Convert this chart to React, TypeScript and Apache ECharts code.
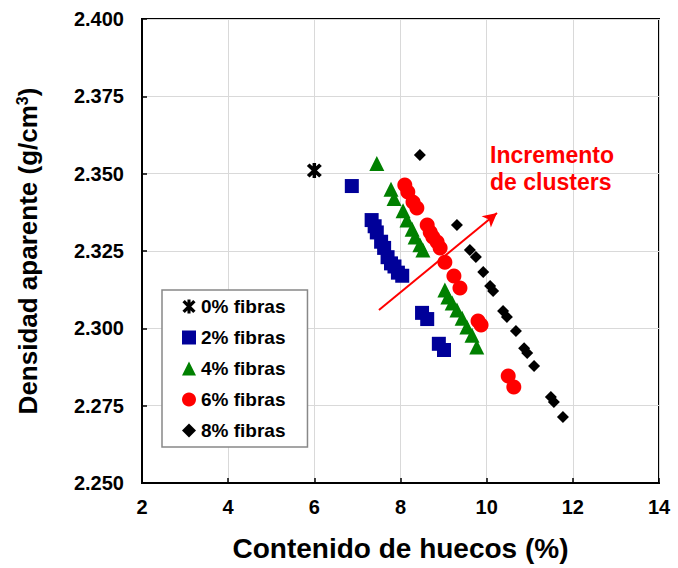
import React, { useEffect, useRef } from "react";
import * as echarts from "echarts";

const xTicks = [2, 4, 6, 8, 10, 12, 14];
const seriesNames = ["0% fibras", "2% fibras", "4% fibras", "6% fibras", "8% fibras"];

const fib0 = [[6.0, 2.351]];
const fib2 = [
  [6.87, 2.346], [7.33, 2.335], [7.4, 2.333], [7.45, 2.331], [7.55, 2.328], [7.62, 2.326],
  [7.7, 2.323], [7.78, 2.321], [7.86, 2.32], [7.94, 2.318], [8.04, 2.317],
  [8.5, 2.305], [8.62, 2.303], [8.89, 2.295], [9.01, 2.293],
];
const fib4 = [
  [7.45, 2.3533], [7.78, 2.345], [7.85, 2.342], [8.06, 2.338], [8.15, 2.335], [8.27, 2.332],
  [8.34, 2.3295], [8.45, 2.327], [8.52, 2.3253], [9.03, 2.3124], [9.1, 2.3101], [9.2, 2.3082],
  [9.31, 2.3059], [9.43, 2.3033], [9.54, 2.3004], [9.66, 2.2978], [9.77, 2.294],
];
const fib6 = [
  [8.1, 2.3463], [8.17, 2.3441], [8.29, 2.3408], [8.38, 2.3389], [8.62, 2.3334], [8.69, 2.3311],
  [8.75, 2.3295], [8.85, 2.3279], [8.92, 2.326], [9.03, 2.3214], [9.24, 2.3169], [9.38, 2.313],
  [9.8, 2.3024], [9.87, 2.3011], [10.5, 2.2846], [10.63, 2.281],
];
const fib8 = [
  [8.45, 2.356], [9.31, 2.3334], [9.61, 2.3253], [9.75, 2.3231], [9.92, 2.3182], [10.08, 2.3137],
  [10.15, 2.3121], [10.38, 2.3056], [10.47, 2.3037], [10.68, 2.2991], [10.87, 2.2936],
  [10.94, 2.292], [11.1, 2.2878], [11.49, 2.2778], [11.56, 2.2762], [11.77, 2.2713],
];
const arrowStart = [7.5, 2.3059];
const arrowEnd = [10.24, 2.3373];
const annotation = "Incremento\nde clusters";

const FONT = "'Liberation Sans', Arial, sans-serif";
const STAR =
  "path://M3.9 0H6.1V10H3.9Z M0.3 2L2 0.3L9.7 8L8 9.7Z M8 0.3L9.7 2L2 9.7L0.3 8Z";

export default function App() {
  const ref = useRef<HTMLDivElement>(null);
  useEffect(() => {
    if (!ref.current) return;
    const chart = echarts.init(ref.current, undefined, { renderer: "svg" });
    const mk = (name: string, data: number[][], symbol: string, size: number, color: string, extra: any = {}) => ({
      name,
      type: "scatter",
      data,
      symbol,
      symbolSize: size,
      itemStyle: { color, opacity: 1 },
      ...extra,
    });
    chart.setOption({
      animation: false,
      backgroundColor: "#fff",
      grid: {
        left: 142,
        top: 19,
        width: 517,
        height: 464,
        show: true,
        borderColor: "#000",
        borderWidth: 2,
        backgroundColor: "#fff",
      },
      xAxis: {
        type: "value",
        min: xTicks[0],
        max: xTicks[xTicks.length - 1],
        interval: 2,
        name: "Contenido de huecos (%)",
        nameLocation: "middle",
        nameGap: 51,
        nameTextStyle: { fontFamily: FONT, fontWeight: "bold", fontSize: 28, color: "#000" },
        axisLine: { show: true, lineStyle: { color: "#000", width: 2 } },
        axisTick: { show: true, inside: true, length: 5, lineStyle: { color: "#000", width: 1.5 } },
        axisLabel: { fontFamily: FONT, fontWeight: "bold", fontSize: 20, color: "#000", margin: 14 },
        splitLine: { show: true, lineStyle: { color: "#d9d9d9", width: 1 } },
      },
      yAxis: {
        type: "value",
        min: 2.25,
        max: 2.4,
        interval: 0.025,
        name: "Densidad aparente (g/cm{sup|3})",
        nameLocation: "middle",
        nameGap: 100,
        nameRotate: 90,
        nameTextStyle: {
          fontFamily: FONT,
          fontWeight: "bold",
          fontSize: 26,
          color: "#000",
          rich: {
            sup: { fontFamily: FONT, fontWeight: "bold", fontSize: 16, color: "#000", padding: [0, 0, 12, 0] },
          },
        },
        axisLine: { show: true, lineStyle: { color: "#000", width: 2 } },
        axisTick: { show: true, inside: true, length: 5, lineStyle: { color: "#000", width: 1.5 } },
        axisLabel: {
          fontFamily: FONT,
          fontWeight: "bold",
          fontSize: 20,
          color: "#000",
          margin: 18,
          formatter: (v: number) => v.toFixed(3),
        },
        splitLine: { show: true, lineStyle: { color: "#d9d9d9", width: 1 } },
      },
      legend: {
        show: true,
        orient: "vertical",
        left: 162,
        top: 290,
        data: seriesNames,
        itemWidth: 14,
        itemHeight: 14,
        itemGap: 12,
        padding: [7, 22, 7, 20],
        borderColor: "#888",
        borderWidth: 1.5,
        backgroundColor: "#fff",
        textStyle: { fontFamily: FONT, fontWeight: "bold", fontSize: 19, color: "#000", lineHeight: 19 },
      },
      graphic: [
        {
          type: "text",
          left: 490,
          top: 141,
          z: 100,
          style: {
            text: annotation,
            fill: "#ff0000",
            font: `bold 23px ${FONT}`,
            lineHeight: 27,
          },
        },
      ],
      series: [
        mk(seriesNames[0], fib0, STAR, 15, "#000"),
        mk(seriesNames[1], fib2, "rect", 14, "#000099"),
        mk(seriesNames[2], fib4, "triangle", 15, "#008000"),
        mk(seriesNames[3], fib6, "circle", 15, "#ff0000"),
        mk(seriesNames[4], fib8, "diamond", 12, "#000", {
          markLine: {
            silent: true,
            symbol: ["none", "arrow"],
            symbolSize: [11, 14],
            label: { show: false },
            lineStyle: { color: "#ff0000", width: 2, type: "solid" },
            data: [[{ coord: arrowStart }, { coord: arrowEnd }]],
          },
        }),
      ],
    });
    return () => chart.dispose();
  }, []);
  return <div ref={ref} style={{ position: "fixed", left: 0, top: 0, width: 678, height: 568 }} />;
}
